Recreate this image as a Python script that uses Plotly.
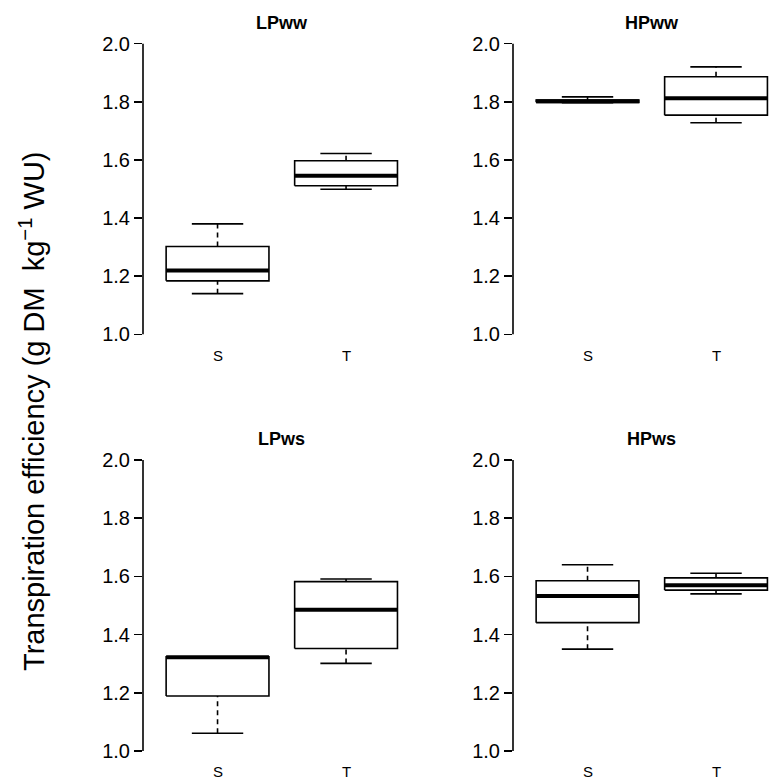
import plotly.graph_objects as go

# ---- data ----
panels = ["LPww", "HPww", "LPws", "HPws"]
categories = ["S", "T"]
lower_whisker = {"LPww": [1.140, 1.499], "HPww": [1.797, 1.728], "LPws": [1.061, 1.301], "HPws": [1.350, 1.540]}
q1 = {"LPww": [1.184, 1.511], "HPww": [1.798, 1.754], "LPws": [1.189, 1.352], "HPws": [1.441, 1.553]}
median = {"LPww": [1.220, 1.546], "HPww": [1.802, 1.812], "LPws": [1.322, 1.485], "HPws": [1.533, 1.570]}
q3 = {"LPww": [1.302, 1.597], "HPww": [1.806, 1.886], "LPws": [1.324, 1.582], "HPws": [1.585, 1.595]}
upper_whisker = {"LPww": [1.380, 1.622], "HPww": [1.817, 1.920], "LPws": [1.324, 1.591], "HPws": [1.640, 1.611]}
y_ticks = [1.0, 1.2, 1.4, 1.6, 1.8, 2.0]
y_title = "Transpiration efficiency (g DM  kg<sup>−1</sup> WU)"

W, H = 772, 781
FONT = "Liberation Sans, Arial, sans-serif"
BOX_HALF = 0.4
CAP_HALF = 0.2
LW = 1.6

# pixel geometry of panels
x_doms = [[143 / W, 420.6 / W], [513 / W, 1.0]]
x_ranges = [[0.42, 2.58], [0.42, 0.42 + (W - 513) / 128.5]]
y_doms = [[1 - 346.0 / H, 1 - 32.0 / H], [1 - 762.6 / H, 1 - 448.4 / H]]

fig = go.Figure()
layout = dict(
    width=W, height=H, margin=dict(l=0, r=0, t=0, b=0),
    plot_bgcolor="white", paper_bgcolor="white", showlegend=False,
    font=dict(family=FONT, color="black"),
)
annotations = []
shapes = []

for k, p in enumerate(panels):
    row, col = divmod(k, 2)
    ax = "" if k == 0 else str(k + 1)
    xa, ya = "x" + ax, "y" + ax
    layout["xaxis" + ax] = dict(
        domain=x_doms[col], range=x_ranges[col], anchor=ya,
        showticklabels=False, ticks="", showline=False,
        showgrid=False, zeroline=False, fixedrange=True,
    )
    layout["yaxis" + ax] = dict(
        domain=y_doms[row], range=[0.96, 2.04], anchor=xa,
        tickvals=y_ticks, tickformat=".1f", ticks="outside", ticklen=8,
        tickwidth=LW, tickcolor="black", showline=False, showgrid=False,
        zeroline=False, tickfont=dict(size=20, family=FONT, color="black"),
        fixedrange=True,
    )
    # axis line from first to last tick (R style)
    shapes.append(dict(type="line", xref=xa + " domain", yref=ya, x0=0, x1=0,
                       y0=y_ticks[0], y1=y_ticks[-1], line=dict(color="black", width=LW)))
    annotations.append(dict(text="<b>" + p + "</b>", xref=xa, yref=ya, x=1.5, y=y_ticks[-1],
                            yshift=21, showarrow=False, yanchor="middle",
                            font=dict(size=18, family=FONT, color="black")))
    for i, c in enumerate(categories):
        annotations.append(dict(text=c, xref=xa, yref=ya, x=i + 1, y=y_ticks[0],
                                yshift=-21, showarrow=False, yanchor="middle",
                                font=dict(size=15, family=FONT, color="black")))

    bx, by, mx, my, wx, wy, cx, cy = [], [], [], [], [], [], [], []
    for i in range(len(categories)):
        c = i + 1
        bx += [c - BOX_HALF, c + BOX_HALF, c + BOX_HALF, c - BOX_HALF, c - BOX_HALF, None]
        by += [q1[p][i], q1[p][i], q3[p][i], q3[p][i], q1[p][i], None]
        mx += [c - BOX_HALF, c + BOX_HALF, None]
        my += [median[p][i], median[p][i], None]
        wx += [c, c, None, c, c, None]
        wy += [q3[p][i], upper_whisker[p][i], None, lower_whisker[p][i], q1[p][i], None]
        cx += [c - CAP_HALF, c + CAP_HALF, None, c - CAP_HALF, c + CAP_HALF, None]
        cy += [upper_whisker[p][i], upper_whisker[p][i], None, lower_whisker[p][i], lower_whisker[p][i], None]

    fig.add_trace(go.Scatter(x=wx, y=wy, mode="lines", xaxis=xa, yaxis=ya, hoverinfo="skip",
                             line=dict(color="black", width=LW, dash="5px,4px")))
    fig.add_trace(go.Scatter(x=cx, y=cy, mode="lines", xaxis=xa, yaxis=ya, hoverinfo="skip",
                             line=dict(color="black", width=LW)))
    fig.add_trace(go.Scatter(x=bx, y=by, mode="lines", xaxis=xa, yaxis=ya, fill="toself",
                             fillcolor="white", hoverinfo="skip",
                             line=dict(color="black", width=LW)))
    fig.add_trace(go.Scatter(x=mx, y=my, mode="lines", xaxis=xa, yaxis=ya, hoverinfo="skip",
                             line=dict(color="black", width=4)))

annotations.append(dict(text=y_title, xref="paper", yref="paper", x=32 / W, y=1 - 412 / H,
                        textangle=-90, showarrow=False, xanchor="center", yanchor="middle",
                        font=dict(size=29, family=FONT, color="black")))
layout["annotations"] = annotations
layout["shapes"] = shapes
fig.update_layout(**layout)
fig.write_html(
    "out.html",
    config={"displayModeBar": False, "staticPlot": True},
    post_script="document.body.style.margin='0px';document.body.style.overflow='hidden';",
)
